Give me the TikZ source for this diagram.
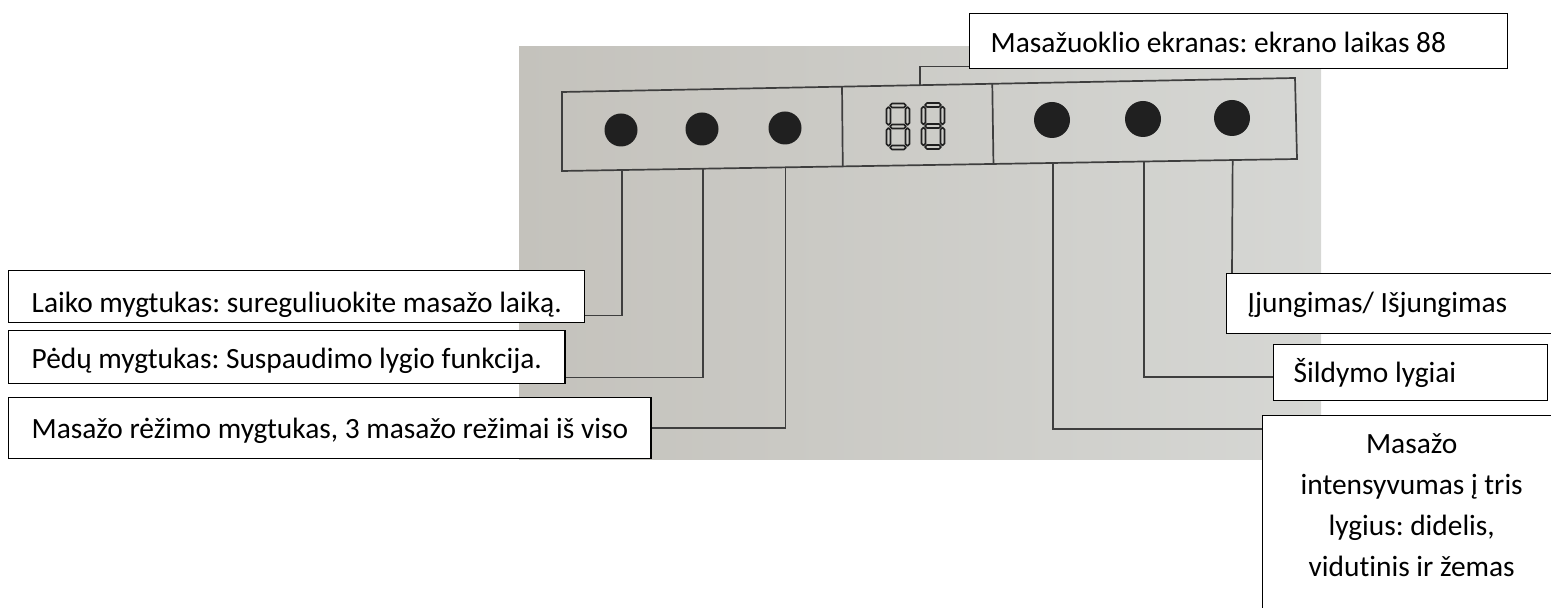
\documentclass[tikz,border=0pt]{standalone}
\usepackage{fontspec}
\setmainfont{Carlito}[Ligatures=NoCommon]
\usetikzlibrary{calc}
\frenchspacing

\definecolor{paperL}{RGB}{196,194,188}
\definecolor{paperR}{RGB}{214,215,212}
\definecolor{ink}{RGB}{62,62,62}
\definecolor{knob}{RGB}{32,32,32}

% seven segment pieces (pixel coordinates)
\newcommand{\segh}[3]{\draw[segline] ({#1},{#3}) -- ({#1+2},{#3-2}) -- ({#2-2},{#3-2}) -- ({#2},{#3}) -- ({#2-2},{#3+2}) -- ({#1+2},{#3+2}) -- cycle;}
\newcommand{\segv}[3]{\draw[segline] ({#1},{#2}) -- ({#1+2},{#2+2}) -- ({#1+2},{#3-2}) -- ({#1},{#3}) -- ({#1-2},{#3-2}) -- ({#1-2},{#2+2}) -- cycle;}
\newcommand{\digiteight}[2]{%
  \segh{#1+4}{#1+20}{#2+2.5}
  \segh{#1+4}{#1+20}{#2+23.5}
  \segh{#1+4}{#1+20}{#2+44.5}
  \segv{#1+2.5}{#2+4}{#2+22}
  \segv{#1+21.5}{#2+4}{#2+22}
  \segv{#1+2.5}{#2+25}{#2+43}
  \segv{#1+21.5}{#2+25}{#2+43}}

\begin{document}
\begin{tikzpicture}[x=0.5pt, y=-0.5pt,
    wire/.style={draw=ink, line width=0.85pt},
    segline/.style={draw=knob, line width=0.85pt, line join=round},
    btn/.style={circle, fill=knob, inner sep=0pt},
    lbl/.style={draw=black, line width=0.7pt, fill=white, anchor=north west,
      inner ysep=0pt, inner xsep=10.5pt, font=\fontsize{14.7}{20.5}\selectfont}]
    \useasboundingbox (0,0) rectangle (1551,608);

    % Photo of the control panel
    \fill[left color=paperL, right color=paperR] (519,47) rectangle (1321,460);
    \coordinate (ptl) at (562,92);
    \coordinate (ptr) at (1295,78);
    \coordinate (pbr) at (1297,159);
    \coordinate (pbl) at (562,171);
    \draw[wire] (ptl) -- (ptr) -- (pbr) -- (pbl) -- cycle;
    \draw[wire] ($(ptl)!0.382!(ptr)$) -- ($(pbl)!0.382!(pbr)$);
    \draw[wire] ($(ptl)!0.587!(ptr)$) -- ($(pbl)!0.587!(pbr)$);

    % Buttons
    \node[btn, minimum size=16.5pt] (d1) at (621,130) {};
    \node[btn, minimum size=16.5pt] (d2) at (702,129) {};
    \node[btn, minimum size=16.5pt] (d3) at (785,128) {};
    \node[btn, minimum size=18pt] (d4) at (1052,120) {};
    \node[btn, minimum size=18pt] (d5) at (1143,119) {};
    \node[btn, minimum size=18pt] (d6) at (1232,118) {};

    % Screen 88
    \digiteight{886}{103}
    \digiteight{921}{102.5}
    \coordinate (scrtop) at ($(ptl)!0.488!(ptr)$);

    % Labels
    \node[lbl, align=flush left, text width=248pt, text height=19.5pt, text depth=8pt] (lblscr) at (969,13) {Masažuoklio ekranas: ekrano laikas 88};
    \node[lbl, inner xsep=11.5pt, text height=21pt, text depth=5pt] (laiko) at (8,270) {Laiko mygtukas: sureguliuokite masažo laiką.};
    \node[lbl, inner xsep=11.5pt, text height=19pt, text depth=7.5pt] (pedu) at (8,330) {Pėdų mygtukas: Suspaudimo lygio funkcija.};
    \node[lbl, inner xsep=11.5pt, text height=20.5pt, text depth=10pt] (rezim) at (8,397) {Masažo rėžimo mygtukas, 3 masažo režimai iš viso};
    \node[lbl, align=flush left, text width=143pt, text height=19.5pt, text depth=10.5pt] (ijung) at (1226,273) {Įjungimas/ Išjungimas};
    \node[lbl, align=flush left, inner xsep=10pt, text width=117pt, text height=19pt, text depth=9pt] (sild) at (1273,344) {Šildymo lygiai};
    \node[lbl, align=flush center, inner xsep=10pt, text width=129pt, text height=19pt, text depth=81pt] (intens) at (1262,415) {Masažo\\ intensyvumas į tris\\ lygius: didelis,\\ vidutinis ir žemas};

    % Leader lines
    \draw[wire] (scrtop) |- ([yshift=1.5pt]lblscr.south west);
    \draw[wire] ($(pbl)!(d1)!(pbr)$) |- ([yshift=4pt]laiko.south east);
    \draw[wire] ($(pbl)!(d2)!(pbr)$) |- ([yshift=3.5pt]pedu.south east);
    \draw[wire] ($(pbl)!(d3)!(pbr)$) |- (rezim.east);
    \draw[wire] ($(pbl)!(d6)!(pbr)$) -- (d6 |- ijung.north);
    \draw[wire] ($(pbl)!(d5)!(pbr)$) |- ([yshift=-2pt]sild.west);
    \draw[wire] ($(pbl)!(d4)!(pbr)$) |- ([yshift=-7pt]intens.north west);
\end{tikzpicture}
\end{document}
